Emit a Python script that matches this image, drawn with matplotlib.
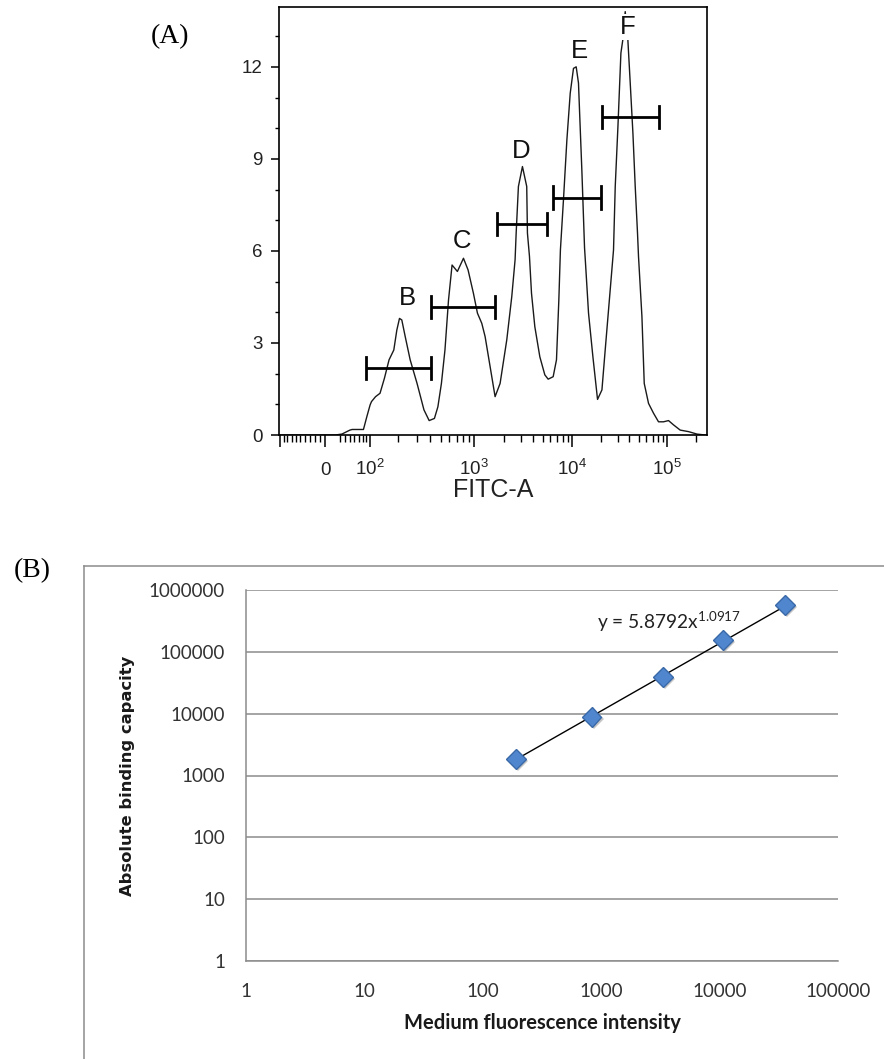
import numpy as np
import matplotlib
matplotlib.use('Agg')
import matplotlib.pyplot as plt
from matplotlib.lines import Line2D
from matplotlib.ticker import NullLocator
import matplotlib.patheffects as pe

plt.rcParams['mathtext.default'] = 'regular'

# --- (A) FITC-A histogram of the calibration beads ---
fitc = [-103, 20, 33, 50, 55, 82, 91, 100, 104, 116, 130, 145, 162, 181, 194,
        206, 217, 234, 261, 303, 351, 392, 438, 471, 507, 546, 588, 633, 707,
        802, 882, 985, 1081, 1197, 1294, 1456, 1637, 1841, 2154, 2422, 2618,
        2685, 2831, 3112, 3441, 3499, 3670, 3849, 4162, 4680, 5263, 5690, 6400,
        6918, 7311, 7586, 8147, 8831, 9550, 10320, 11020, 11650, 11940, 12650,
        13490, 13810, 14860, 16520, 18480, 20560, 22250, 25120, 27220, 28380,
        30290, 32560, 34170, 36140, 38500, 40810, 43550, 46050, 48680, 49870,
        54180, 57300, 63580, 71760, 80980, 91430, 103200, 116500, 136900,
        167600, 205400, 251200, 262144]
count = [0, 0, 0.03, 0.16, 0.18, 0.18, 0.6, 0.98, 1.09, 1.25, 1.36, 1.85, 2.45,
         2.77, 3.42, 3.80, 3.75, 3.21, 2.45, 1.68, 0.82, 0.47, 0.54, 0.92, 1.68,
         2.77, 4.40, 5.54, 5.33, 5.76, 5.38, 4.62, 3.97, 3.64, 3.21, 2.23, 1.25,
         1.68, 3.10, 4.51, 5.71, 6.58, 8.10, 8.75, 8.10, 6.58, 5.82, 4.62, 3.53,
         2.55, 1.96, 1.82, 1.90, 2.45, 4.40, 6.03, 7.66, 9.62, 11.14, 11.95,
         12.00, 11.47, 10.6, 8.6, 6.1, 5.6, 3.97, 2.55, 1.16, 1.47, 2.77, 4.73,
         6.03, 8.10, 10.05, 12.45, 12.9, 13.8, 12.9, 11.47, 9.84, 8.10, 6.58,
         5.82, 3.86, 1.68, 1.03, 0.71, 0.43, 0.43, 0.47, 0.33, 0.16, 0.11, 0.03,
         0, 0]

peak_names = ['B', 'C', 'D', 'E', 'F']
peak_x = [248, 783, 3020, 11850, 38820]
peak_y = [4.47, 6.33, 9.26, 12.52, 13.3]

gate_lo = [88, 406, 1706, 6442, 20560]
gate_hi = [406, 1637, 5598, 20050, 82920]
gate_y = [2.17, 4.16, 6.88, 7.74, 10.36]

# --- (B) calibration curve ---
mfi = [190, 830, 3340, 10690, 35700]
abc = [1860, 8900, 39500, 154000, 566000]
fit_a = 5.8792
fit_b = 1.0917


# biexponential-like display scale for the cytometry axis
W = 46.0
AX_VALS = [-1e5, -1e4, -1e3, -100, 0, 100, 1e3, 1e4, 1e5, 1e7]
AX_POS = [-342, -247, -149, -45, 0, 45, 149, 247, 342, 532]


def _t(x):
    return np.arcsinh(np.asarray(x, dtype=float) / (2 * W)) / np.log(10)


def _t_inv(t):
    return 2 * W * np.sinh(np.asarray(t, dtype=float) * np.log(10))


T_KNOTS = _t(AX_VALS)


def fwd(x):
    return np.interp(_t(x), T_KNOTS, AX_POS)


def inv(u):
    return _t_inv(np.interp(u, AX_POS, T_KNOTS))


fig = plt.figure(figsize=(8.84, 10.59), dpi=100)

# ---------------- panel A ----------------
axA = fig.add_axes([279 / 884, 1 - 435 / 1059, 428 / 884, 428 / 1059])
axA.set_xscale('function', functions=(fwd, inv))
axA.plot(fitc, count, color='#1a1a1a', lw=1.0)

cap = 0.36
for lo, hi, y in zip(gate_lo, gate_hi, gate_y):
    axA.plot([lo, hi], [y, y], color='black', lw=2.0, solid_capstyle='butt')
    axA.plot([lo, lo], [y - cap, y + cap], color='black', lw=2.0)
    axA.plot([hi, hi], [y - cap, y + cap], color='black', lw=2.0)

for name, x, y in zip(peak_names, peak_x, peak_y):
    axA.text(x, y, name, ha='center', va='center', fontsize=18.5,
             family='Liberation Sans', color='#111111',
             bbox=dict(fc='white', ec='none', pad=1.0))

axA.set_xlim(-103, 262144)
axA.set_ylim(0, 13.95)

x_major = [-100, 0, 100, 1000, 10000, 100000]
x_labels = ['', '0', r'$10^{2}$', r'$10^{3}$', r'$10^{4}$', r'$10^{5}$']
x_minor = (list(range(-90, 0, 10)) + list(range(30, 100, 10))
           + [k * m for m in (100, 1000, 10000) for k in range(2, 10)]
           + [200000])
axA.set_xticks(x_major, labels=x_labels)
axA.set_xticks(x_minor, minor=True)
axA.set_yticks([0, 3, 6, 9, 12])
axA.set_yticks(range(0, 14), minor=True)

axA.tick_params(axis='x', which='major', length=8.6, width=1.1, pad=20.5,
                labelsize=13.5, labelcolor='#222222')
axA.tick_params(axis='x', which='minor', length=5, width=1.0)
axA.tick_params(axis='y', which='major', length=5.8, width=1.1, pad=6,
                labelsize=13.5, labelcolor='#222222')
axA.tick_params(axis='y', which='minor', length=3.2, width=1.0)
for lbl in axA.get_xticklabels() + axA.get_yticklabels():
    lbl.set_family('Liberation Sans')
for tk in axA.xaxis.get_major_ticks():
    tk.label1.set_verticalalignment('baseline')
for sp in axA.spines.values():
    sp.set_linewidth(1.2)

axA.set_xlabel('FITC-A', fontsize=18, family='Liberation Sans',
               color='#222222')
axA.xaxis.set_label_coords(0.5, -0.100)

# ---------------- panel B ----------------
axB = fig.add_axes([246 / 884, 1 - 961 / 1059, 592 / 884, 371 / 1059])
axB.set_xscale('log')
axB.set_yscale('log')
axB.set_xlim(1, 1e5)
axB.set_ylim(1, 1e6)

grid_c = '#8c8c8c'
axB.yaxis.grid(True, color=grid_c, lw=1.1)
axB.set_axisbelow(True)
for side in ('top', 'right'):
    axB.spines[side].set_visible(False)
for side in ('left', 'bottom'):
    axB.spines[side].set_color(grid_c)
    axB.spines[side].set_linewidth(1.1)

xt = [1, 10, 100, 1000, 10000, 100000]
yt = [1, 10, 100, 1000, 10000, 100000, 1000000]
axB.set_xticks(xt, labels=[str(v) for v in xt])
axB.set_yticks(yt, labels=[str(v) for v in yt])
axB.xaxis.set_minor_locator(NullLocator())
axB.yaxis.set_minor_locator(NullLocator())
axB.tick_params(axis='x', length=0, pad=16, labelsize=13.5,
                labelcolor='#333333')
axB.tick_params(axis='y', length=0, pad=15, labelsize=13.5,
                labelcolor='#333333')
for lbl in axB.get_xticklabels() + axB.get_yticklabels():
    lbl.set_family('Lato')

# power-law trend line from the fitted coefficients
xf = np.geomspace(min(mfi), max(mfi), 50)
axB.plot(xf, fit_a * xf ** fit_b, color='black', lw=1.0, zorder=3)
axB.plot(mfi, abc, ls='none', marker='D', ms=10, mfc='#4f86ce',
         mec='#3a69a8', mew=1.0, zorder=4,
         path_effects=[pe.SimplePatchShadow(offset=(1.5, -1.5),
                                            shadow_rgbFace='0.55', alpha=0.5),
                       pe.Normal()])

axB.text(0.593, 0.895, f'y = {fit_a}$x^{{{fit_b}}}$', transform=axB.transAxes,
         ha='left', va='baseline', fontsize=13.8, family='Lato',
         color='#222222')

axB.set_xlabel('Medium fluorescence intensity', fontsize=14.5, family='Lato',
               fontweight='bold', color='#1a1a1a')
axB.xaxis.set_label_coords(0.5, -0.140)
axB.set_ylabel('Absolute binding capacity', fontsize=11.8,
               family='DejaVu Sans', fontweight='bold', color='#1a1a1a')
axB.yaxis.set_label_coords(-0.1875, 0.5)

# frame around panel B (open at the right and bottom edges of the page)
fx0, fy0 = 84 / 884, 1 - 566 / 1059
fig.add_artist(Line2D([fx0, 1.0], [fy0, fy0], color=grid_c, lw=1.1))
fig.add_artist(Line2D([fx0, fx0], [fy0, 0.0], color=grid_c, lw=1.1))

fig.text(170 / 884, 1 - 37 / 1059, '(A)', ha='center', va='center',
         fontsize=20, family='Liberation Serif')
fig.text(32 / 884, 1 - 571 / 1059, '(B)', ha='center', va='center',
         fontsize=20, family='Liberation Serif')

fig.savefig('out.png', dpi=100)
